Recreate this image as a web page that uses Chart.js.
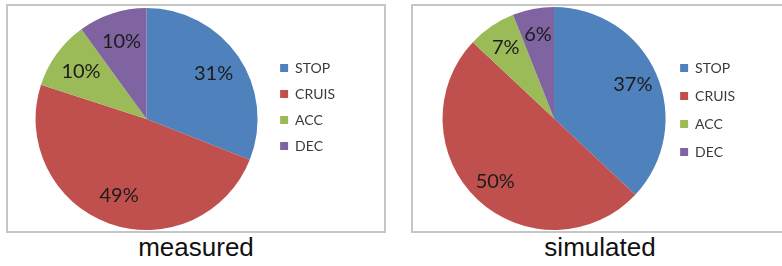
<!DOCTYPE html>
<html>
<head>
<meta charset="utf-8">
<script src="https://cdn.jsdelivr.net/npm/chart.js@4/dist/chart.umd.min.js"></script>
<style>
  body { margin: 0; width: 782px; height: 266px; overflow: hidden; background: #fff; position: relative; }
  .box { position: absolute; top: 4px; height: 225px; border: 2px solid #c6c6c6; background: #fff; }
  #boxMeasured { left: 6px; width: 376px; }
  #boxSimulated { left: 411px; width: 380px; }
  .caption { position: absolute; top: 232px; width: 200px; line-height: 30px; text-align: center;
             font-family: "Liberation Sans", Arial, sans-serif; font-size: 26px; color: #111; }
  canvas { display: block; }
</style>
</head>
<body>
<div class="box" id="boxMeasured"><canvas id="measuredChart" width="376" height="225"></canvas></div>
<div class="box" id="boxSimulated"><canvas id="simulatedChart" width="380" height="225"></canvas></div>
<div class="caption" style="left:96px">measured</div>
<div class="caption" style="left:500px">simulated</div>

<script>
// share of time per driving mode, in percent
const categories = ['STOP', 'CRUIS', 'ACC', 'DEC']
const measured = [31, 49, 10, 10]
const simulated = [37, 50, 7, 6]

const sliceColors = ['#4f81bd', '#c0504d', '#9bbb59', '#8064a2']

// percent text inside each slice
const pctLabels = {
  id: 'pctLabels',
  afterDatasetsDraw(chart, args, opts) {
    const ctx = chart.ctx
    const meta = chart.getDatasetMeta(0)
    const values = chart.data.datasets[0].data
    ctx.save()
    ctx.font = '20px Lato'
    ctx.fillStyle = '#1c1c1c'
    ctx.textAlign = 'center'
    ctx.textBaseline = 'middle'
    meta.data.forEach((arc, i) => {
      const {x, y, startAngle, endAngle, outerRadius} =
        arc.getProps(['x', 'y', 'startAngle', 'endAngle', 'outerRadius'], true)
      const mid = (startAngle + endAngle) / 2
      const r = outerRadius * opts.ratio
      ctx.fillText(values[i] + '%', x + Math.cos(mid) * r, y + Math.sin(mid) * r)
    })
    ctx.restore()
  }
}

function makePie(id, values, conf) {
  const ctx = document.getElementById(id)
  return new Chart(ctx.getContext('2d'), {
    type: 'pie',
    data: {
      labels: categories,
      datasets: [{ data: values, backgroundColor: sliceColors, borderWidth: 0 }]
    },
    options: {
      responsive: false,
      animation: false,
      layout: { padding: conf.padding },
      plugins: {
        legend: {
          position: 'right',
          align: 'start',
          // blank title only pushes the legend items down
          title: { display: true, text: ' ', font: { size: 10 }, padding: { top: conf.legendTop, bottom: 0 } },
          labels: {
            boxWidth: 8, boxHeight: 8, padding: conf.legendGap,
            color: '#3a3a3a', font: { family: 'Lato', size: 14 }
          }
        },
        tooltip: { enabled: false },
        pctLabels: { ratio: conf.ratio }
      }
    },
    plugins: [pctLabels]
  })
}

makePie('measuredChart', measured, {
  padding: { top: 2, bottom: 1, left: 17, right: 39 },
  legendTop: 29, legendGap: 12, ratio: 0.73
})
makePie('simulatedChart', simulated, {
  padding: { top: 1, bottom: 1, left: 29, right: 48 },
  legendTop: 28, legendGap: 14, ratio: 0.77
})
</script>
</body>
</html>
